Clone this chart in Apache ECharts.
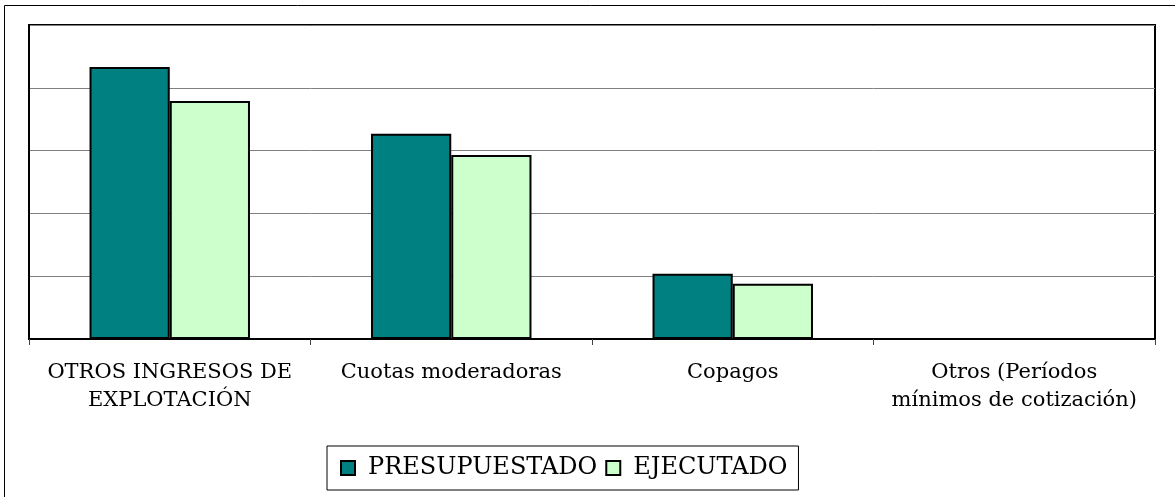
<!DOCTYPE html>
<html>
<head>
<meta charset="utf-8">
<script src="https://cdn.jsdelivr.net/npm/echarts@6/dist/echarts.min.js"></script>
<style>
  html, body { margin: 0; padding: 0; background: #fff; }
  #main { width: 1175px; height: 497px; }
</style>
</head>
<body>
<div id="main"></div>
<script>
// categorías del eje X
var categorias = [
  'OTROS INGRESOS DE\nEXPLOTACIÓN',
  'Cuotas moderadoras',
  'Copagos',
  'Otros (Períodos\nmínimos de cotización)'
]
var presupuestado = [4.33, 3.27, 1.04, 0]
var ejecutado = [3.79, 2.93, 0.88, 0]

var chart = echarts.init(document.getElementById('main'))
var option = {
  backgroundColor: '#fff',
  animation: false,
  textStyle: { fontFamily: 'DejaVu Serif' },
  grid: {
    left: 29,
    right: 20,
    top: 25,
    bottom: 158,
    show: true,
    borderColor: '#000',
    borderWidth: 2
  },
  graphic: [
    {
      // marco exterior
      type: 'rect',
      shape: { x: 4.5, y: 5.5, width: 1200, height: 600 },
      style: { fill: null, stroke: '#000', lineWidth: 1 },
      z: -1
    }
  ],
  legend: {
    left: 327,
    top: 446,
    padding: [10, 11, 10, 13],
    borderColor: '#000',
    borderWidth: 1,
    itemWidth: 14,
    itemHeight: 14,
    itemGap: 8,
    icon: 'rect',
    textStyle: { fontFamily: 'DejaVu Serif', fontSize: 24, color: '#000', padding: [0, 0, 0, 8] },
    data: ['PRESUPUESTADO', 'EJECUTADO']
  },
  xAxis: {
    type: 'category',
    data: categorias,
    axisLine: { lineStyle: { color: '#000', width: 2 } },
    axisTick: { show: true, length: 6, lineStyle: { color: '#444', width: 1 } },
    axisLabel: {
      interval: 0,
      margin: 20,
      color: '#000',
      fontFamily: 'DejaVu Serif',
      fontSize: 21,
      lineHeight: 28
    }
  },
  yAxis: {
    type: 'value',
    min: 0,
    max: 5,
    interval: 1,
    axisLabel: { show: false },
    axisLine: { show: true, lineStyle: { color: '#000', width: 2 } },
    axisTick: { show: false },
    splitLine: { lineStyle: { color: '#808080', width: 1 } }
  },
  series: [
    {
      name: 'PRESUPUESTADO',
      type: 'bar',
      data: presupuestado,
      barGap: '0%',
      barCategoryGap: '43%',
      itemStyle: { color: '#008080', borderColor: '#000', borderWidth: 2 }
    },
    {
      name: 'EJECUTADO',
      type: 'bar',
      data: ejecutado,
      itemStyle: { color: '#CCFFCC', borderColor: '#000', borderWidth: 2 }
    }
  ]
}
chart.setOption(option)
</script>
</body>
</html>
